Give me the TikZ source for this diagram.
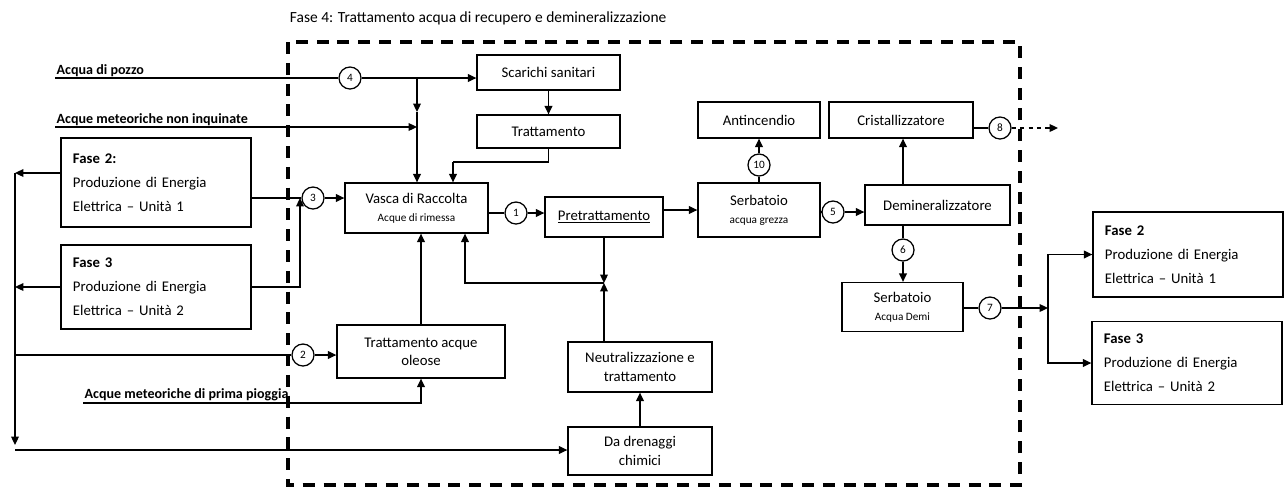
\documentclass[tikz,border=0pt]{standalone}
\usepackage{fontspec}
\setmainfont{Carlito}
\usepackage{tikz}
\usetikzlibrary{arrows.meta}
\tikzstyle{box}=[rectangle,draw,line width=0.9pt,align=center,font=\fontsize{10.5}{13}\selectfont,inner sep=2pt]
\tikzstyle{fasebox}=[rectangle,draw,line width=0.9pt,align=left,font=\fontsize{10.5}{17}\selectfont,inner xsep=0.3cm,text width=4.15cm]
\tikzstyle{num}=[circle,draw,line width=0.9pt,minimum size=0.55cm,inner sep=0pt,font=\footnotesize,fill=white]
\tikzstyle{flow}=[line width=0.9pt,-{Triangle[length=6pt,width=5.5pt]}]
\tikzstyle{link}=[line width=0.9pt]
\tikzstyle{src}=[font=\fontsize{10}{12}\selectfont\bfseries,inner sep=1pt]
\tikzstyle{frame}=[line width=2.2pt,dash pattern=on 0.3cm off 0.22cm]

\begin{document}
\begin{tikzpicture}[x=0.025cm,y=-0.025cm]
		\useasboundingbox (0,0) rectangle (1284,489);

		\node[anchor=west,font=\fontsize{11}{13}\selectfont] (titolo) at (285,18) {Fase 4: Trattamento acqua di recupero e demineralizzazione};
		\draw[frame] (288,42) rectangle (1020,485);

		% fasi a sinistra
		\node[fasebox,minimum height=2.225cm] (f2l) at (156,182.5) {\textbf{Fase 2:}\\Produzione di Energia\\Elettrica -- Unità 1};
		\node[fasebox,minimum height=2.1cm] (f3l) at (156,287) {\textbf{Fase 3}\\Produzione di Energia\\Elettrica -- Unità 2};

		% blocchi della fase 4
		\node[box,minimum width=3.575cm,minimum height=0.875cm] (scar) at (548.5,72.5) {Scarichi sanitari};
		\node[box,minimum width=3.575cm,minimum height=0.825cm] (tratt) at (548.5,131.5) {Trattamento};
		\node[box,minimum width=3.575cm,minimum height=1.25cm] (vasca) at (416.5,208) {Vasca di Raccolta\\{\footnotesize Acque di rimessa}};
		\node[box,minimum width=2.95cm,minimum height=1cm] (pretr) at (604,217) {\underline{Pretrattamento}};
		\node[box,minimum width=3.05cm,minimum height=1.35cm] (serb) at (759,210) {Serbatoio\\{\footnotesize acqua grezza}};
		\node[box,minimum width=3.05cm,minimum height=0.9cm] (anti) at (759,120) {Antincendio};
		\node[box,minimum width=3.6cm,minimum height=0.9cm] (crist) at (901,120) {Cristallizzatore};
		\node[box,minimum width=3.625cm,minimum height=1cm] (demi) at (937.5,205) {Demineralizzatore};
		\node[box,minimum width=3.025cm,minimum height=1.225cm] (sdemi) at (902.5,307) {Serbatoio\\{\footnotesize Acqua Demi}};
		\node[box,minimum width=4.2cm,minimum height=1.325cm] (oleose) at (421,351.5) {Trattamento acque\\oleose};
		\node[box,minimum width=3.6cm,minimum height=1.25cm] (neutr) at (640,367) {Neutralizzazione e\\trattamento};
		\node[box,minimum width=3.6cm,minimum height=1.2cm] (dren) at (640,451) {Da drenaggi\\chimici};

		% fasi a destra
		\node[fasebox,minimum height=2.125cm] (f2r) at (1188,254.5) {\textbf{Fase 2}\\Produzione di Energia\\Elettrica -- Unità 1};
		\node[fasebox,minimum height=2.075cm] (f3r) at (1187,363) {\textbf{Fase 3}\\Produzione di Energia\\Elettrica -- Unità 2};

		% punti di flusso numerati
		\node[num] (c4) at (350,78) {4};
		\node[num] (c3) at (313,198) {3};
		\node[num] (c1) at (516,213) {1};
		\node[num] (c10) at (759,165) {10};
		\node[num] (c5) at (833,212) {5};
		\node[num] (c6) at (903,250) {6};
		\node[num] (c7) at (990,308) {7};
		\node[num] (c8) at (1000,128) {8};
		\node[num] (c2) at (303,355) {2};

		\coordinate (pozzo) at (55,78);
		\coordinate (meteo) at (55,127);
		\coordinate (pioggia) at (83,403);
		\coordinate (j4) at (417,78);
		\coordinate (m4) at (417,112);
		\coordinate (tv) at (453,162);
		\coordinate (j3) at (300,198);
		\coordinate (jn) at (604,283);
		\coordinate (vb) at (465,283);
		\coordinate (ltop) at (15,173);
		\coordinate (ldown) at (15,445);
		\coordinate (lbot) at (15,450);
		\coordinate (jr) at (1048,308);
		\coordinate (out8) at (1058,128);

		\node[src,anchor=south west] (pozzolbl) at (pozzo) {Acqua di pozzo};
		\node[src,anchor=south west] (meteolbl) at (meteo) {Acque meteoriche non inquinate};
		\node[src,anchor=south west] (pioggialbl) at (pioggia) {Acque meteoriche di prima pioggia};

		% ingressi
		\draw[link] (pozzo) -- (c4);
		\draw[flow] (c4) -- (scar.west |- c4);
		\draw[flow] (j4) -- (m4);
		\draw[flow] (m4) -- (vasca.north -| j4);
		\draw[flow] (meteo) -- (meteo -| j4);
		\draw[flow] (scar.south -| tratt) -- (tratt.north);
		\draw[link] (tratt.south) |- (tv);
		\draw[flow] (tv) -- (vasca.north -| tv);
		\draw[link] (f2l.east |- c3) -- (c3);
		\draw[flow] (f3l.east) -| (j3);
		\draw[flow] (c3) -- (vasca.west |- c3);

		% linea principale
		\draw[link] (vasca.east |- c1) -- (c1);
		\draw[flow] (c1) -- (pretr.west |- c1);
		\draw[flow] (pretr.east |- serb) -- (serb.west);
		\draw[link] (serb.east |- c5) -- (c5);
		\draw[flow] (c5) -- (demi.west |- c5);
		\draw[link] (serb.north -| c10) -- (c10);
		\draw[flow] (c10) -- (anti.south -| c10);
		\draw[flow] (demi.north -| c6) -- (crist.south -| c6);
		\draw[link] (demi.south -| c6) -- (c6);
		\draw[flow] (c6) -- (sdemi.north -| c6);
		\draw[link] (crist.east |- c8) -- (c8);
		\draw[flow,dashed] (c8) -- (out8);
		\draw[link] (sdemi.east |- c7) -- (c7);
		\draw[flow] (c7) -- (jr);
		\draw[flow] (jr) |- (f2r.west);
		\draw[flow] (jr) |- (f3r.west);

		% ricircoli
		\draw[flow] (pretr.south -| jn) -- (jn);
		\draw[flow] (neutr.north -| jn) -- (jn);
		\draw[flow] (jn) -| (vasca.south -| vb);
		\draw[flow] (oleose.north) -- (oleose.north |- vasca.south);
		\draw[flow] (pioggia) -| (oleose.south);
		\draw[flow] (dren.north) -- (neutr.south);

		% scarichi delle fasi 2 e 3
		\draw[flow] (f2l.west |- ltop) -- (ltop);
		\draw[flow] (f3l.west) -- (f3l.west -| ltop);
		\draw[flow] (ltop) -- (ldown);
		\draw[link] (c2 -| ltop) -- (c2);
		\draw[flow] (c2) -- (oleose.west |- c2);
		\draw[flow] (lbot) -- (dren.west |- lbot);
	\end{tikzpicture}
\end{document}
